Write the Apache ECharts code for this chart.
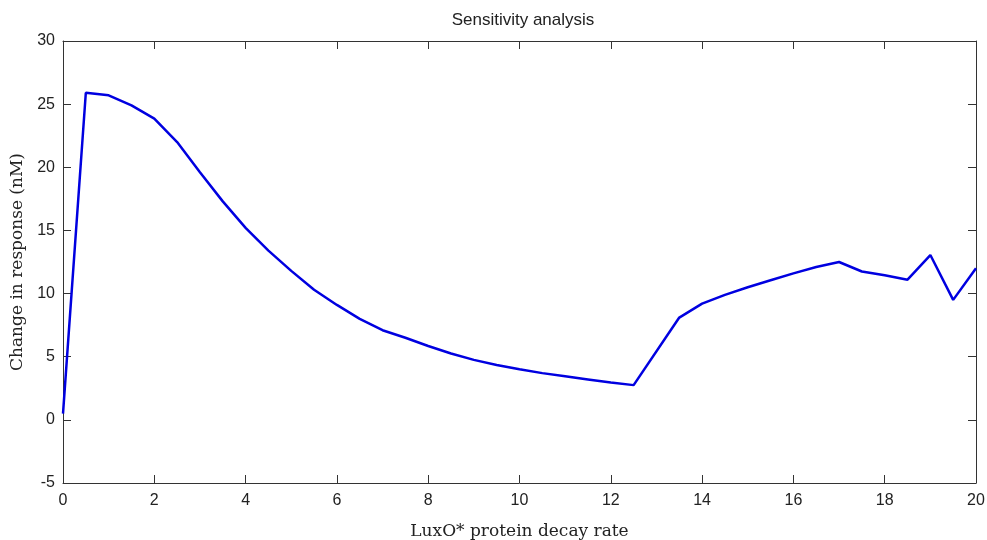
<!DOCTYPE html>
<html>
<head>
<meta charset="utf-8">
<script src="https://cdn.jsdelivr.net/npm/echarts@6/dist/echarts.min.js"></script>
<style>
html,body{margin:0;padding:0;background:#fff;}
#c{width:987px;height:540px;}
</style>
</head>
<body>
<div id="c"></div>
<script>
const titleText = 'Sensitivity analysis';
const xLabel = 'LuxO* protein decay rate';
const yLabel = 'Change in response (nM)';
const decayRate = [0, 0.5, 0.75, 1, 1.5, 2, 2.5, 3, 3.5, 4, 4.5, 5, 5.5, 6, 6.5, 7, 7.5, 8, 8.5, 9, 9.5, 10, 10.5, 11, 11.5, 12, 12.5, 13.5, 14, 14.5, 15, 15.5, 16, 16.5, 17, 17.5, 18, 18.5, 19, 19.5, 20];
const response = [0.5, 25.9, 25.8, 25.7, 24.9, 23.85, 22.0, 19.6, 17.3, 15.2, 13.4, 11.8, 10.3, 9.1, 8.0, 7.1, 6.5, 5.85, 5.25, 4.75, 4.35, 4.0, 3.7, 3.45, 3.2, 2.95, 2.75, 8.1, 9.2, 9.9, 10.5, 11.05, 11.6, 12.1, 12.5, 11.75, 11.45, 11.1, 13.05, 9.5, 12.0];

const data = decayRate.map((x, i) => [x, response[i]]);
const sansNarrow = "'Liberation Sans Narrow', 'Arial Narrow', 'Liberation Sans', Arial, sans-serif";
const tickFont = {fontFamily: sansNarrow, fontSize: 16, color: '#222'};
const axisLine = {show: true, onZero: false, lineStyle: {color: '#333', width: 1}};
const tickIn = {show: true, inside: true, length: 8, lineStyle: {color: '#333', width: 1}};

const chart = echarts.init(document.getElementById('c'));
chart.setOption({
  animation: false,
  backgroundColor: '#fff',
  title: {
    text: titleText, left: 518, top: 7, textAlign: 'center',
    textStyle: {fontFamily: sansNarrow, fontSize: 17, fontWeight: 'normal', color: '#222'}
  },
  grid: {left: 63, right: 11, top: 41, bottom: 57, containLabel: false, outerBoundsMode: 'none'},
  xAxis: [{
    type: 'value', min: 0, max: 20, interval: 2, position: 'bottom',
    name: xLabel, nameLocation: 'middle', nameGap: 40,
    nameTextStyle: {fontFamily: "'DejaVu Serif', serif", fontSize: 17, color: '#222'},
    axisLine: axisLine, axisTick: tickIn, splitLine: {show: false},
    axisLabel: Object.assign({margin: 10}, tickFont)
  }, {
    type: 'value', min: 0, max: 20, interval: 2, position: 'top',
    axisLine: axisLine, axisTick: tickIn, splitLine: {show: false}, axisLabel: {show: false}
  }],
  yAxis: [{
    type: 'value', min: -5, max: 30, interval: 5, position: 'left',
    name: yLabel, nameLocation: 'middle', nameGap: 34, nameRotate: 90,
    nameTextStyle: {fontFamily: "'DejaVu Serif', serif", fontSize: 17, color: '#222'},
    axisLine: axisLine, axisTick: tickIn, splitLine: {show: false},
    axisLabel: Object.assign({margin: 8}, tickFont)
  }, {
    type: 'value', min: -5, max: 30, interval: 5, position: 'right',
    axisLine: axisLine, axisTick: tickIn, splitLine: {show: false}, axisLabel: {show: false}
  }],
  series: [{
    type: 'line', data: data, xAxisIndex: 0, yAxisIndex: 0,
    showSymbol: false, smooth: false,
    lineStyle: {color: '#0000e0', width: 2.5}
  }]
});
</script>
</body>
</html>
